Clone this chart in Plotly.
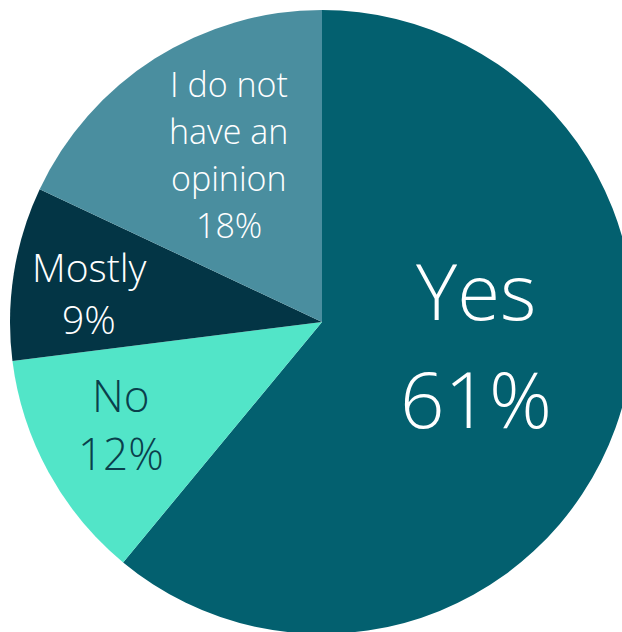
import plotly.graph_objects as go

# Survey answers, clockwise from 12 o'clock
labels = ["Yes", "No", "Mostly", "I do not have an opinion"]
values = [61, 12, 9, 18]
colors = ["#03606F", "#52E5C8", "#033545", "#4A8E9F"]

# How each slice label is wrapped and styled
label_lines = [["Yes"], ["No"], ["Mostly"], ["I do not", "have an", "opinion"]]
label_sizes = [78, 44, 39, 34]
label_colors = ["white", "#0A3F4C", "white", "white"]
# Text anchor (pixel centre of first line) and line pitch, per slice
label_pos = [(476, 290, 108), (121, 395, 58), (89, 266, 52), (229, 84, 47)]

W = H = 644
R_PAD = 10

fig = go.Figure(
    go.Pie(
        labels=labels,
        values=values,
        marker=dict(colors=colors, line=dict(width=0)),
        sort=False,
        direction="clockwise",
        rotation=0,
        textinfo="none",
        hoverinfo="label+percent",
        domain=dict(x=[R_PAD / W, 1 - R_PAD / W], y=[R_PAD / H, 1 - R_PAD / H]),
        showlegend=False,
    )
)

annotations = []
for lines, val, size, col, (cx, cy, pitch) in zip(
    label_lines, values, label_sizes, label_colors, label_pos
):
    for i, line in enumerate(lines + [f"{val}%"]):
        py = cy + i * pitch
        annotations.append(
            dict(
                text=line,
                x=cx / W,
                y=1 - py / H,
                xref="paper",
                yref="paper",
                xanchor="center",
                yanchor="middle",
                showarrow=False,
                font=dict(family="Open Sans", size=size, color=col, weight=300),
            )
        )

fig.update_layout(
    width=W,
    height=H,
    margin=dict(l=0, r=0, t=0, b=0),
    paper_bgcolor="white",
    plot_bgcolor="white",
    annotations=annotations,
)

fig.write_html(
    "out.html",
    config={"displayModeBar": False},
    post_script="document.body.style.margin='0';document.body.style.overflow='hidden';document.documentElement.style.overflow='hidden';",
)
